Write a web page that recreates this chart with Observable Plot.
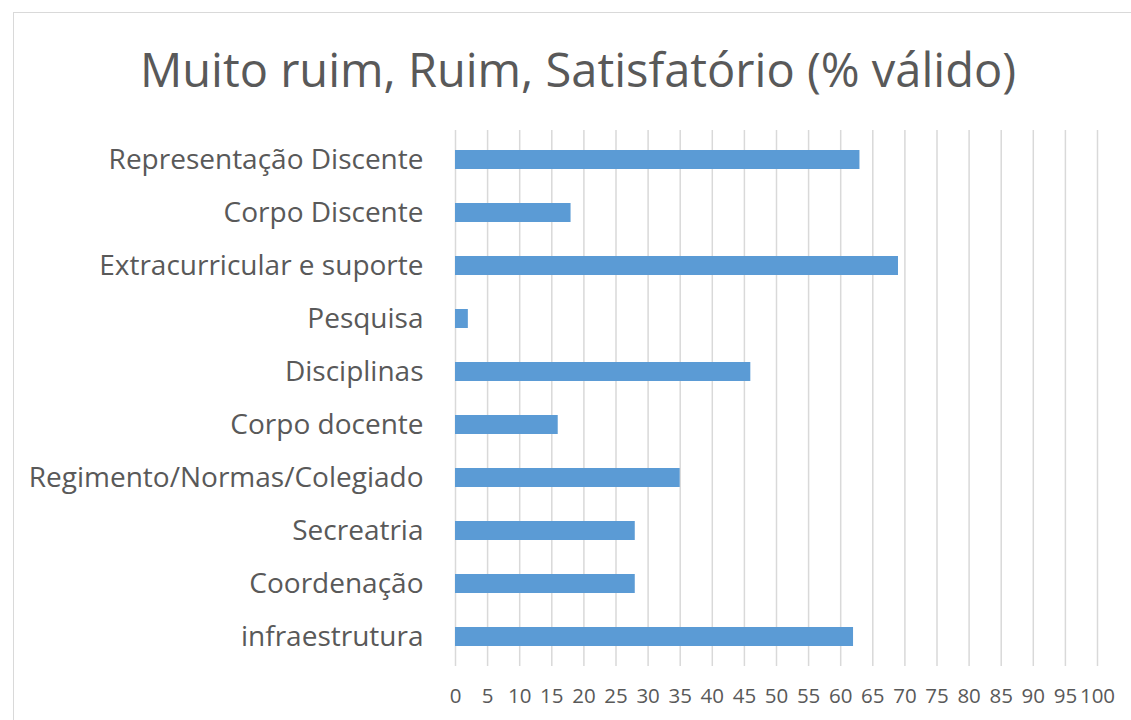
<!DOCTYPE html>
<html>
<head>
<meta charset="utf-8">
<script src="https://cdn.jsdelivr.net/npm/d3@7"></script>
<script src="https://cdn.jsdelivr.net/npm/@observablehq/plot@0.6"></script>
<style>
  html, body { margin: 0; padding: 0; background: #fff; overflow: hidden; width: 1131px; height: 720px; }
  #frame { position: absolute; left: 13px; top: 12px; width: 1200px; height: 800px; border: 1.5px solid #d9d9d9; box-sizing: border-box; }
  #title { position: absolute; left: 0; top: 0; width: 1156px; height: 120px; text-align: center; font-family: "Open Sans", sans-serif; font-size: 47px; color: #595959; line-height: 138px; }
  #chart { position: absolute; left: 0; top: 120px; }
  #chart text { font-family: "Open Sans", sans-serif; }
</style>
</head>
<body>
<div id="frame"></div>
<div id="title">Muito ruim, Ruim, Satisfatório (% válido)</div>
<div id="chart"></div>
<script>
const categories = [
  "Representação Discente",
  "Corpo Discente",
  "Extracurricular e suporte",
  "Pesquisa",
  "Disciplinas",
  "Corpo docente",
  "Regimento/Normas/Colegiado",
  "Secreatria",
  "Coordenação",
  "infraestrutura"
];
const values = [63, 18, 69, 2, 46, 16, 35, 28, 28, 62];
const xTicks = d3.range(0, 101, 5);

const data = categories.map((c, i) => ({category: c, value: values[i]}));

const plot = Plot.plot({
  width: 1131,
  height: 600,
  marginLeft: 455,
  marginRight: 34,
  marginTop: 10,
  marginBottom: 54,
  style: {background: "transparent", color: "#595959", overflow: "visible"},
  x: {domain: [0, 100], ticks: xTicks, label: null},
  y: {domain: categories, label: null, paddingInner: 0.64, paddingOuter: 0.32},
  marks: [
    Plot.ruleX(xTicks, {stroke: "#d9d9d9", strokeWidth: 1.5, strokeOpacity: 1}),
    Plot.barX(data, {x: "value", y: "category", fill: "#5b9bd5"}),
    Plot.axisX({ticks: xTicks, tickSize: 0, tickPadding: 22, fontSize: 20.5, fill: "#595959", label: null}),
    Plot.axisY({tickSize: 0, tickPadding: 32, fontSize: 28, fill: "#595959", label: null})
  ]
});
document.getElementById("chart").appendChild(plot);
</script>
</body>
</html>
